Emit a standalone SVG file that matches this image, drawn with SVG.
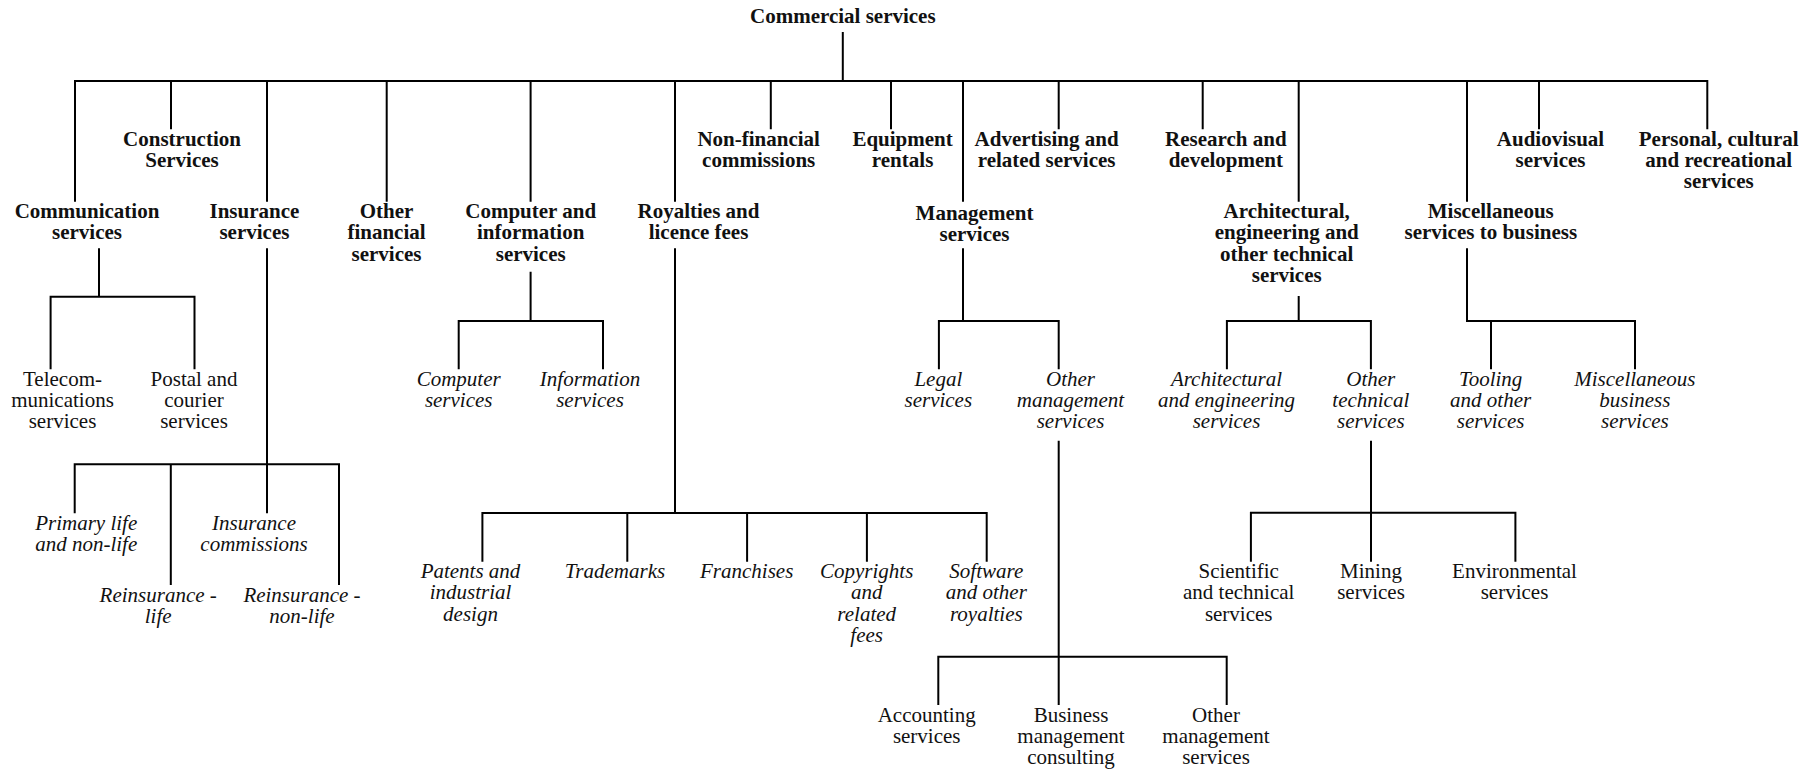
<svg xmlns="http://www.w3.org/2000/svg" width="1820" height="775" viewBox="0 0 1820 775">
  <style>
    text { font-family: "Liberation Serif", "Times New Roman", serif; font-size: 21px; fill: #111; text-anchor: middle; }
    .b text { font-weight: bold; }
    .i text { font-style: italic; }
    #connectors path { fill: none; stroke: #000; stroke-width: 2; stroke-linejoin: miter; }
  </style>
  <rect width="1820" height="775" fill="#fff"/>

  <!-- tree connectors -->
  <g id="connectors">
    <!-- root and first level -->
    <path d="M842.8,32 V81"/>
    <path d="M75,201.7 V81 H1707.3 V129.3"/>
    <path d="M171,81 V129.3 M267,81 V201.7 M386.7,81 V201.7 M530.6,81 V201.7 M675,81 V201.7 M770.8,81 V129.3 M891,81 V129.3 M963,81 V201.7 M1058.7,81 V129.3 M1202.7,81 V129.3 M1298.7,81 V201.7 M1467,81 V201.7 M1539,81 V129.3"/>
    <!-- communication -->
    <path d="M99,248.3 V296.7 M50.6,369.3 V296.7 H194.5 V369.3"/>
    <!-- insurance -->
    <path d="M267,248.3 V513.3 M74.7,513.3 V464.3 H339 V585 M170.8,464.3 V585"/>
    <!-- computer and information -->
    <path d="M530.6,271.7 V321 M458.7,369.3 V321 H603 V369.3"/>
    <!-- royalties -->
    <path d="M675,248.3 V513 M482.4,561.7 V513 H986.7 V561.7 M627.3,513 V561.7 M747.1,513 V561.7 M866.9,513 V561.7"/>
    <!-- management -->
    <path d="M963,248.3 V321 M938.9,369.3 V321 H1058.7 V369.3"/>
    <path d="M1058.7,440.7 V705 M938.3,705 V656.7 H1226.7 V705"/>
    <!-- architectural -->
    <path d="M1298.7,296 V321 M1226.9,369.3 V321 H1370.9 V369.3"/>
    <path d="M1371,440.7 V561.7 M1250.9,561.7 V512.7 H1515.4 V561.7"/>
    <!-- miscellaneous -->
    <path d="M1467,248.3 V321 H1635 V369.3 M1491,321 V369.3"/>
  </g>

  <!-- bold headings -->
  <g class="b">
    <g id="n-commercial"><text x="842.8" y="22.7">Commercial services</text></g>
    <g id="n-construction"><text x="182"><tspan x="182" y="146">Construction</tspan><tspan x="182" y="167">Services</tspan></text></g>
    <g id="n-communication"><text><tspan x="87" y="218">Communication</tspan><tspan x="87" y="239">services</tspan></text></g>
    <g id="n-insurance"><text><tspan x="254.4" y="218">Insurance</tspan><tspan x="254.4" y="239">services</tspan></text></g>
    <g id="n-otherfin"><text><tspan x="386.5" y="218.3">Other</tspan><tspan x="386.5" y="239.3">financial</tspan><tspan x="386.5" y="260.7">services</tspan></text></g>
    <g id="n-computer"><text><tspan x="530.7" y="218.3">Computer and</tspan><tspan x="530.7" y="239.3">information</tspan><tspan x="530.7" y="260.7">services</tspan></text></g>
    <g id="n-royalties"><text><tspan x="698.5" y="218">Royalties and</tspan><tspan x="698.5" y="239">licence fees</tspan></text></g>
    <g id="n-nonfin"><text><tspan x="758.7" y="146">Non-financial</tspan><tspan x="758.7" y="167">commissions</tspan></text></g>
    <g id="n-equipment"><text><tspan x="902.6" y="146">Equipment</tspan><tspan x="902.6" y="167">rentals</tspan></text></g>
    <g id="n-management"><text><tspan x="974.5" y="220.3">Management</tspan><tspan x="974.5" y="241.3">services</tspan></text></g>
    <g id="n-advertising"><text><tspan x="1046.6" y="146">Advertising and</tspan><tspan x="1046.6" y="167">related services</tspan></text></g>
    <g id="n-research"><text><tspan x="1225.8" y="146">Research and</tspan><tspan x="1225.8" y="167">development</tspan></text></g>
    <g id="n-architectural"><text><tspan x="1286.7" y="218.3">Architectural,</tspan><tspan x="1286.7" y="239.3">engineering and</tspan><tspan x="1286.7" y="260.7">other technical</tspan><tspan x="1286.7" y="282">services</tspan></text></g>
    <g id="n-misc"><text><tspan x="1490.8" y="218">Miscellaneous</tspan><tspan x="1490.8" y="239">services to business</tspan></text></g>
    <g id="n-audiovisual"><text><tspan x="1550.5" y="146">Audiovisual</tspan><tspan x="1550.5" y="167">services</tspan></text></g>
    <g id="n-personal"><text><tspan x="1718.7" y="146">Personal, cultural</tspan><tspan x="1718.7" y="167">and recreational</tspan><tspan x="1718.7" y="188.3">services</tspan></text></g>
  </g>

  <!-- regular sub-items -->
  <g class="r">
    <g id="n-telecom"><text><tspan x="62.5" y="386">Telecom-</tspan><tspan x="62.5" y="406.7">munications</tspan><tspan x="62.5" y="428.3">services</tspan></text></g>
    <g id="n-postal"><text><tspan x="194" y="386">Postal and</tspan><tspan x="194" y="406.7">courier</tspan><tspan x="194" y="428.3">services</tspan></text></g>
    <g id="n-scientific"><text><tspan x="1238.7" y="578">Scientific</tspan><tspan x="1238.7" y="599">and technical</tspan><tspan x="1238.7" y="620.7">services</tspan></text></g>
    <g id="n-mining"><text><tspan x="1371" y="578">Mining</tspan><tspan x="1371" y="599">services</tspan></text></g>
    <g id="n-environmental"><text><tspan x="1514.5" y="578">Environmental</tspan><tspan x="1514.5" y="599">services</tspan></text></g>
    <g id="n-accounting"><text><tspan x="926.7" y="721.7">Accounting</tspan><tspan x="926.7" y="742.7">services</tspan></text></g>
    <g id="n-business"><text><tspan x="1071" y="721.7">Business</tspan><tspan x="1071" y="742.7">management</tspan><tspan x="1071" y="764">consulting</tspan></text></g>
    <g id="n-othermgmt2"><text><tspan x="1216" y="721.7">Other</tspan><tspan x="1216" y="742.7">management</tspan><tspan x="1216" y="764">services</tspan></text></g>
  </g>

  <!-- italic sub-items -->
  <g class="i">
    <g id="n-compsvc"><text><tspan x="458.7" y="386">Computer</tspan><tspan x="458.7" y="406.7">services</tspan></text></g>
    <g id="n-infosvc"><text><tspan x="590" y="386">Information</tspan><tspan x="590" y="406.7">services</tspan></text></g>
    <g id="n-primary"><text><tspan x="86.2" y="530">Primary life</tspan><tspan x="86.2" y="550.7">and non-life</tspan></text></g>
    <g id="n-inscomm"><text><tspan x="254" y="530">Insurance</tspan><tspan x="254" y="550.7">commissions</tspan></text></g>
    <g id="n-reinlife"><text><tspan x="158.2" y="601.7">Reinsurance -</tspan><tspan x="158.2" y="622.7">life</tspan></text></g>
    <g id="n-reinnonlife"><text><tspan x="302" y="601.7">Reinsurance -</tspan><tspan x="302" y="622.7">non-life</tspan></text></g>
    <g id="n-patents"><text><tspan x="470.5" y="578">Patents and</tspan><tspan x="470.5" y="599">industrial</tspan><tspan x="470.5" y="620.7">design</tspan></text></g>
    <g id="n-trademarks"><text x="615" y="578">Trademarks</text></g>
    <g id="n-franchises"><text x="746.7" y="578">Franchises</text></g>
    <g id="n-copyrights"><text><tspan x="866.7" y="578">Copyrights</tspan><tspan x="866.7" y="599">and</tspan><tspan x="866.7" y="620.7">related</tspan><tspan x="866.7" y="642">fees</tspan></text></g>
    <g id="n-software"><text><tspan x="986.3" y="578">Software</tspan><tspan x="986.3" y="599">and other</tspan><tspan x="986.3" y="620.7">royalties</tspan></text></g>
    <g id="n-legal"><text><tspan x="938.3" y="386">Legal</tspan><tspan x="938.3" y="406.7">services</tspan></text></g>
    <g id="n-othermgmt"><text><tspan x="1070.5" y="386">Other</tspan><tspan x="1070.5" y="406.7">management</tspan><tspan x="1070.5" y="428.3">services</tspan></text></g>
    <g id="n-archeng"><text><tspan x="1226.5" y="386">Architectural</tspan><tspan x="1226.5" y="406.7">and engineering</tspan><tspan x="1226.5" y="428.3">services</tspan></text></g>
    <g id="n-othertech"><text><tspan x="1370.8" y="386">Other</tspan><tspan x="1370.8" y="406.7">technical</tspan><tspan x="1370.8" y="428.3">services</tspan></text></g>
    <g id="n-tooling"><text><tspan x="1490.6" y="386">Tooling</tspan><tspan x="1490.6" y="406.7">and other</tspan><tspan x="1490.6" y="428.3">services</tspan></text></g>
    <g id="n-miscbiz"><text><tspan x="1634.9" y="386">Miscellaneous</tspan><tspan x="1634.9" y="406.7">business</tspan><tspan x="1634.9" y="428.3">services</tspan></text></g>
  </g>
</svg>
